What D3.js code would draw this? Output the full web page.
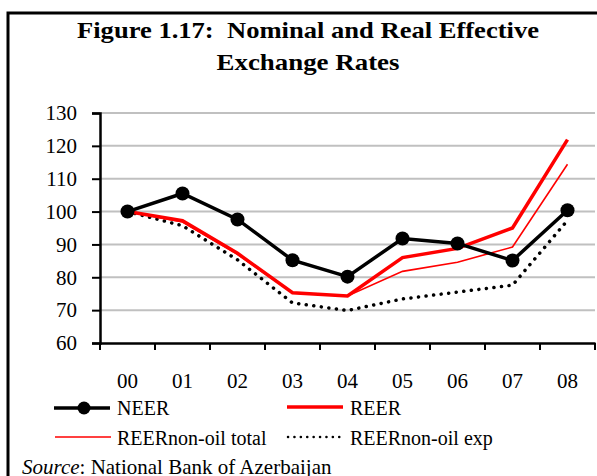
<!DOCTYPE html>
<html>
<head>
<meta charset="utf-8">
<script src="https://cdn.jsdelivr.net/npm/d3@7"></script>
<style>
  body { margin: 0; background: #fff; }
  text { font-family: "Liberation Serif", "Times New Roman", serif; }
</style>
</head>
<body>
<div id="graphic"></div>
<script>
// years (2000-2008), index 2000 = 100
var years = ["00", "01", "02", "03", "04", "05", "06", "07", "08"];
var neer = [100, 105.5, 97.6, 85.2, 80.2, 91.8, 90.3, 85.1, 100.4];
var reer = [100, 97.2, 87.3, 75.3, 74.3, 86.0, 88.8, 95.0, 121.9];
var reerNonOilTotal = [100, 96.8, 87.0, 75.2, 74.3, 81.8, 84.6, 89.2, 114.4];
var reerNonOilExp = [100, 95.7, 85.3, 72.2, 69.9, 73.4, 75.5, 77.6, 97.3];
var yTicks = [60, 70, 80, 90, 100, 110, 120, 130];

var w = 597, h = 476;
var plotLeft = 100, plotRight = 595, plotTop = 113, plotBottom = 343;

var svg = d3.select("#graphic")
    .append("svg")
    .attr("width", w)
    .attr("height", h);

// frame (cut off on the right and bottom)
svg.append("path")
    .attr("d", "M8,476 V13 H597")
    .attr("fill", "none")
    .attr("stroke", "#000")
    .attr("stroke-width", 3);

// title
svg.append("text")
    .attr("x", 308).attr("y", 38)
    .attr("text-anchor", "middle")
    .attr("textLength", 462).attr("lengthAdjust", "spacingAndGlyphs")
    .style("font-size", "24px").style("font-weight", "bold")
    .style("white-space", "pre")
    .text("Figure 1.17:  Nominal and Real Effective");
svg.append("text")
    .attr("x", 308).attr("y", 70)
    .attr("text-anchor", "middle")
    .attr("textLength", 183).attr("lengthAdjust", "spacingAndGlyphs")
    .style("font-size", "24px").style("font-weight", "bold")
    .text("Exchange Rates");

var xScale = d3.scaleBand()
    .domain(years)
    .range([plotLeft, plotRight]);
var yScale = d3.scaleLinear()
    .domain([60, 130])
    .range([plotBottom, plotTop]);

// gridlines
svg.selectAll("line.grid")
    .data(yTicks.slice(1))
    .enter()
    .append("line")
    .attr("class", "grid")
    .attr("x1", plotLeft).attr("x2", plotRight)
    .attr("y1", function(d){ return yScale(d); })
    .attr("y2", function(d){ return yScale(d); })
    .attr("stroke", "#c0c0c0")
    .attr("stroke-width", 2);

// y axis
var yAxis = svg.append("g")
    .attr("transform", "translate(" + plotLeft + ",0)")
    .call(d3.axisLeft(yScale).tickValues(yTicks).tickSize(8).tickPadding(15));
yAxis.select(".domain").attr("stroke-width", 2.5);
yAxis.selectAll(".tick line").attr("stroke-width", 2);
yAxis.selectAll("text")
    .style("font-size", "21px")
    .attr("fill", "#000");

// x axis: labels at band centres, ticks on band edges
var xAxis = svg.append("g")
    .attr("transform", "translate(0," + plotBottom + ")")
    .call(d3.axisBottom(xScale).tickSize(0).tickPadding(30));
xAxis.select(".domain").attr("stroke-width", 2.5);
xAxis.selectAll("text")
    .style("font-size", "21px")
    .attr("fill", "#000");
svg.selectAll("line.xtick")
    .data(years.concat(["end"]))
    .enter()
    .append("line")
    .attr("class", "xtick")
    .attr("x1", function(d, i){ return plotLeft + i * xScale.step(); })
    .attr("x2", function(d, i){ return plotLeft + i * xScale.step(); })
    .attr("y1", plotBottom)
    .attr("y2", plotBottom + 7)
    .attr("stroke", "#000")
    .attr("stroke-width", 2);

function cx(d, i){ return xScale(years[i]) + xScale.bandwidth() / 2; }
var line = d3.line()
    .x(cx)
    .y(function(d){ return yScale(d); });

svg.append("path").datum(reerNonOilExp)
    .attr("d", line).attr("fill", "none")
    .attr("stroke", "#000").attr("stroke-width", 3.5)
    .attr("stroke-linecap", "round")
    .attr("stroke-dasharray", "0.1,7.5");
svg.append("path").datum(reerNonOilTotal)
    .attr("d", line).attr("fill", "none")
    .attr("stroke", "#ff0000").attr("stroke-width", 1.6);
svg.append("path").datum(reer)
    .attr("d", line).attr("fill", "none")
    .attr("stroke", "#ff0000").attr("stroke-width", 3.5);
svg.append("path").datum(neer)
    .attr("d", line).attr("fill", "none")
    .attr("stroke", "#000").attr("stroke-width", 3.5);
svg.selectAll("circle.neer")
    .data(neer)
    .enter()
    .append("circle")
    .attr("class", "neer")
    .attr("cx", cx)
    .attr("cy", function(d){ return yScale(d); })
    .attr("r", 7)
    .attr("fill", "#000");

// legend
var legend = svg.append("g");
function legendLine(x, y, color, width, dash){
    legend.append("line")
        .attr("x1", x).attr("x2", x + 56)
        .attr("y1", y).attr("y2", y)
        .attr("stroke", color).attr("stroke-width", width)
        .attr("stroke-linecap", dash ? "round" : "butt")
        .attr("stroke-dasharray", dash || null);
}
function legendText(x, y, t){
    legend.append("text")
        .attr("x", x).attr("y", y + 7)
        .style("font-size", "20px")
        .text(t);
}
legendLine(54, 408, "#000", 3.5);
legend.append("circle").attr("cx", 84).attr("cy", 408).attr("r", 6.5).attr("fill", "#000");
legendText(117, 408, "NEER");
legendLine(287, 407, "#ff0000", 3.5);
legendText(350, 408, "REER");
legendLine(55, 437, "#ff0000", 1.6);
legendText(117, 438, "REERnon-oil total");
legendLine(288, 437, "#000", 2.5, "0.1,6.3");
legendText(350, 438, "REERnon-oil exp");

// source note
var src = svg.append("text")
    .attr("x", 22).attr("y", 474)
    .style("font-size", "21px");
src.append("tspan").style("font-style", "italic").text("Source");
src.append("tspan").text(": National Bank of Azerbaijan");
</script>
</body>
</html>
